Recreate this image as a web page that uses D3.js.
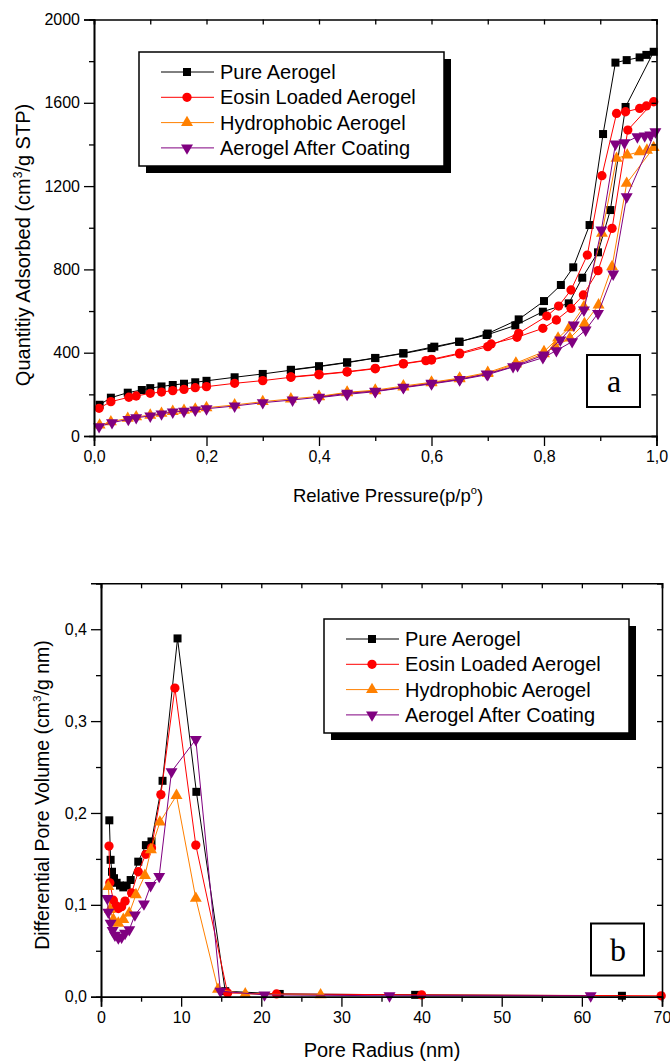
<!DOCTYPE html>
<html>
<head>
<meta charset="UTF-8">
<title>Aerogel isotherms</title>
<script src="https://cdn.jsdelivr.net/npm/d3@7"></script>
<style>
  body { margin: 0; background: #fff; }
  svg { display: block; font-family: "Liberation Sans", Arial, sans-serif; }
</style>
</head>
<body>
<script>
// ---- data: (a) N2 isotherms, adsorption then desorption branch ----
var seriesNames = ["Pure Aerogel", "Eosin Loaded Aerogel", "Hydrophobic Aerogel", "Aerogel After Coating"]
var seriesColors = ["#000000", "#ff0000", "#ff8000", "#800080"]

var pureP = [0.01,0.03,0.06,0.085,0.1,0.12,0.14,0.16,0.18,0.2,0.25,0.3,0.35,0.4,0.45,0.5,0.55,0.6,0.65,0.7,0.755,0.8,0.83,0.852,0.881,0.905,0.927,0.947,0.97,0.982,0.995,
             0.945,0.918,0.896,0.868,0.844,0.798,0.749,0.698,0.649,0.605,0.55,0.5,0.45,0.4,0.35]
var pureV = [150,184,208,221,230,238,245,251,258,265,282,298,316,333,352,374,396,422,452,492,560,648,725,810,1013,1450,1793,1805,1818,1830,1845,
             1580,1085,882,760,637,597,531,485,453,429,398,375,354,335,318]

var eosinP = [0.009,0.03,0.062,0.075,0.1,0.12,0.14,0.16,0.18,0.2,0.25,0.3,0.35,0.4,0.45,0.5,0.55,0.59,0.6,0.65,0.7,0.755,0.805,0.826,0.848,0.877,0.903,0.929,0.945,0.97,0.982,0.995,
              0.949,0.921,0.896,0.87,0.848,0.822,0.798,0.752,0.706,0.65,0.6,0.55,0.5,0.45,0.4,0.35]
var eosinV = [133,165,186,192,205,211,218,224,232,237,253,266,282,294,307,323,346,362,365,394,429,493,576,624,701,869,1250,1549,1557,1573,1585,1605,
              1469,997,794,677,613,557,517,474,442,398,368,348,325,309,296,284]

var hydroP = [0.01,0.03,0.06,0.075,0.1,0.12,0.14,0.16,0.18,0.2,0.25,0.3,0.35,0.4,0.45,0.5,0.55,0.6,0.65,0.7,0.75,0.8,0.825,0.845,0.871,0.903,0.929,0.948,0.97,0.983,0.995,
              0.947,0.921,0.897,0.872,0.846,0.82,0.8,0.75,0.7,0.65,0.6,0.55,0.5,0.45,0.4]
var hydroV = [52,68,85,92,100,109,118,123,129,136,149,165,178,190,210,220,240,258,278,305,350,405,470,520,621,973,1333,1349,1365,1372,1385,
              1213,813,629,540,470,430,395,345,300,275,255,235,217,207,188]

var coatP = [0.009,0.032,0.061,0.075,0.1,0.12,0.14,0.16,0.18,0.2,0.25,0.3,0.353,0.4,0.45,0.5,0.55,0.6,0.65,0.698,0.745,0.8,0.829,0.853,0.871,0.902,0.927,0.943,0.966,0.979,0.989,0.998,
             0.947,0.923,0.896,0.874,0.85,0.822,0.798,0.753,0.7,0.65,0.6,0.55,0.5,0.45,0.4]
var coatV = [45,64,80,88,96,106,115,119,125,131,144,160,173,186,205,215,234,253,272,298,333,389,461,533,605,989,1402,1408,1437,1441,1445,1461,
             1149,778,589,509,453,410,376,338,295,270,250,232,213,200,184]

// ---- data: (b) pore size distribution ----
var pureR = [1.04,1.2,1.37,1.62,1.95,2.37,2.78,3.2,3.7,4.65,5.6,6.3,7.68,9.55,11.9,15.5,22.3,39.2,65]
var pureD = [0.192,0.149,0.136,0.129,0.124,0.121,0.119,0.121,0.127,0.147,0.165,0.169,0.235,0.390,0.223,0.006,0.003,0.002,0.001]

var eosinR = [1.0,1.1,1.54,1.87,2.16,2.57,3.0,3.82,4.65,5.6,6.3,7.47,9.22,11.83,15.8,21.9,40.0,69.9]
var eosinD = [0.164,0.124,0.105,0.099,0.096,0.098,0.104,0.113,0.136,0.155,0.162,0.22,0.336,0.165,0.004,0.003,0.002,0.001]

var hydroR = [0.91,1.12,1.54,2.16,2.78,3.53,4.36,5.48,6.23,7.35,9.42,11.83,14.6,18.0,27.4]
var hydroD = [0.12,0.095,0.084,0.08,0.084,0.091,0.111,0.132,0.16,0.19,0.219,0.107,0.008,0.003,0.002]

var coatR = [0.79,0.91,1.2,1.45,1.74,2.16,2.57,3.0,3.53,4.23,5.36,6.19,7.26,8.8,11.83,14.9,20.4,36.0,61.1]
var coatD = [0.107,0.092,0.080,0.072,0.067,0.064,0.065,0.069,0.073,0.089,0.101,0.121,0.131,0.245,0.280,0.006,0.002,0.001,0.001]

// tick values
var aMajorX = [0,0.2,0.4,0.6,0.8,1.0], aMinorX = [0.1,0.3,0.5,0.7,0.9]
var aMajorY = [0,400,800,1200,1600,2000], aMinorY = [200,600,1000,1400,1800]
var bMajorX = [0,10,20,30,40,50,60,70], bMinorX = [5,15,25,35,45,55,65]
var bMajorY = [0,0.1,0.2,0.3,0.4], bMinorY = [0.05,0.15,0.25,0.35,0.45]

var svg = d3.select("body").append("svg").attr("width", 670).attr("height", 1064)

var symbols = [d3.symbolSquare, d3.symbolCircle, d3.symbolTriangle, d3.symbolTriangle]
var symSize = [64, 68, 62, 62]
var symRot = [0, 0, 0, 180]

function comma(dec) {
    return function(d) { return d3.format("." + dec + "f")(d).replace(".", ",") }
}

function marker(g, i, x, y) {
    g.append("path")
        .attr("d", d3.symbol().type(symbols[i]).size(symSize[i])())
        .attr("transform", "translate(" + x + "," + y + ") rotate(" + symRot[i] + ")")
        .attr("fill", seriesColors[i])
}

function drawChart(c) {
    var x = d3.scaleLinear().domain(c.xDomain).range([c.left, c.right])
    var y = d3.scaleLinear().domain(c.yDomain).range([c.bottom, c.top])
    var g = svg.append("g")

    // series
    c.series.forEach(function(s, i) {
        var pts = s[0].map(function(v, k) { return [v, s[1][k]] })
        g.append("path")
            .datum(pts)
            .attr("fill", "none")
            .attr("stroke", seriesColors[i])
            .attr("stroke-width", 1)
            .attr("d", d3.line().x(function(d) { return x(d[0]) }).y(function(d) { return y(d[1]) }))
        pts.forEach(function(d) { marker(g, i, x(d[0]), y(d[1])) })
    })

    // axes
    var ax = g.append("g")
    ax.append("g").attr("transform", "translate(0," + c.bottom + ")")
        .call(d3.axisBottom(x).tickValues(c.majorX).tickSize(10).tickPadding(5).tickFormat(c.fmtX))
    ax.append("g").attr("transform", "translate(0," + c.bottom + ")")
        .call(d3.axisBottom(x).tickValues(c.minorX).tickSize(5).tickFormat(""))
    ax.append("g").attr("transform", "translate(" + c.left + ",0)")
        .call(d3.axisLeft(y).tickValues(c.majorY).tickSize(10).tickPadding(4).tickFormat(c.fmtY))
    ax.append("g").attr("transform", "translate(" + c.left + ",0)")
        .call(d3.axisLeft(y).tickValues(c.minorY).tickSize(5).tickFormat(""))
    ax.append("g").attr("transform", "translate(0," + c.top + ")")
        .call(d3.axisTop(x).tickValues(c.majorX.concat(c.minorX)).tickSize(-5).tickFormat(""))
    ax.append("g").attr("transform", "translate(" + c.right + ",0)")
        .call(d3.axisRight(y).tickValues(c.majorY.concat(c.minorY)).tickSize(-5).tickFormat(""))
    ax.selectAll(".domain").attr("stroke-width", 1.6)
    ax.selectAll(".tick line").attr("stroke-width", 1.3)
    ax.selectAll(".tick text").attr("fill", "#000").attr("font-size", 16)
        .attr("font-family", "Liberation Sans, Arial, sans-serif")

    // legend
    var L = c.legend
    g.append("rect").attr("x", L.x + 7).attr("y", L.y + 7).attr("width", L.w).attr("height", L.h).attr("fill", "#000")
    g.append("rect").attr("x", L.x).attr("y", L.y).attr("width", L.w).attr("height", L.h)
        .attr("fill", "#fff").attr("stroke", "#000").attr("stroke-width", 1.5)
    seriesNames.forEach(function(n, i) {
        var yy = L.y + 20 + i * 25.3
        g.append("line").attr("x1", L.x + 22).attr("x2", L.x + 75).attr("y1", yy).attr("y2", yy)
            .attr("stroke", seriesColors[i]).attr("stroke-width", 1)
        marker(g, i, L.x + 48, yy)
        g.append("text").attr("x", L.x + 81).attr("y", yy + 7).attr("font-size", 20).text(n)
    })

    // panel label
    g.append("rect").attr("x", c.tag.x).attr("y", c.tag.y).attr("width", 53).attr("height", 52)
        .attr("fill", "#fff").attr("stroke", "#000").attr("stroke-width", 2)
    g.append("text").attr("x", c.tag.x + 27).attr("y", c.tag.y + 37).attr("text-anchor", "middle")
        .attr("font-family", "Liberation Serif, Times New Roman, serif").attr("font-size", 32).text(c.tag.t)

    // axis titles
    var xt = g.append("text").attr("x", c.xTitle.x).attr("y", c.xTitle.y).attr("text-anchor", "middle")
        .attr("font-size", c.xTitle.size)
    c.xTitle.parts.forEach(function(p) {
        xt.append("tspan").attr("font-size", p[1] ? c.xTitle.size * 0.6 : null)
            .attr("dy", p[1] ? -8 : (p[2] ? 8 : null)).text(p[0])
    })
    var yt = g.append("text").attr("transform", "translate(" + c.yTitle.x + "," + c.yTitle.y + ") rotate(-90)")
        .attr("text-anchor", "middle").attr("font-size", c.yTitle.size)
    c.yTitle.parts.forEach(function(p) {
        yt.append("tspan").attr("font-size", p[1] ? c.yTitle.size * 0.6 : null)
            .attr("dy", p[1] ? -8 : (p[2] ? 8 : null)).text(p[0])
    })
}

drawChart({
    xDomain: [0, 1], yDomain: [0, 2000],
    left: 94, right: 656.5, top: 19.5, bottom: 436,
    series: [[pureP, pureV], [eosinP, eosinV], [hydroP, hydroV], [coatP, coatV]],
    majorX: aMajorX, minorX: aMinorX, majorY: aMajorY, minorY: aMinorY,
    fmtX: comma(1), fmtY: d3.format("d"),
    legend: { x: 139, y: 52, w: 305, h: 114 },
    tag: { x: 587, y: 355, t: "a" },
    xTitle: { x: 388, y: 502, size: 18.5, parts: [["Relative Pressure(p/p"], ["o", true], [")", false, true]] },
    yTitle: { x: 30, y: 245, size: 20, parts: [["Quantitiy Adsorbed (cm"], ["3", true], ["/g STP)", false, true]] }
})

drawChart({
    xDomain: [0, 70], yDomain: [0, 0.45],
    left: 101, right: 662, top: 583.3, bottom: 996.7,
    series: [[pureR, pureD], [eosinR, eosinD], [hydroR, hydroD], [coatR, coatD]],
    majorX: bMajorX, minorX: bMinorX, majorY: bMajorY, minorY: bMinorY,
    fmtX: d3.format("d"), fmtY: comma(1),
    legend: { x: 324, y: 619, w: 305, h: 114 },
    tag: { x: 591, y: 923.5, t: "b" },
    xTitle: { x: 382, y: 1057, size: 20, parts: [["Pore Radius (nm)"]] },
    yTitle: { x: 49, y: 795, size: 19.5, parts: [["Differential Pore Volume (cm"], ["3", true], ["/g nm)", false, true]] }
})
</script>
</body>
</html>
